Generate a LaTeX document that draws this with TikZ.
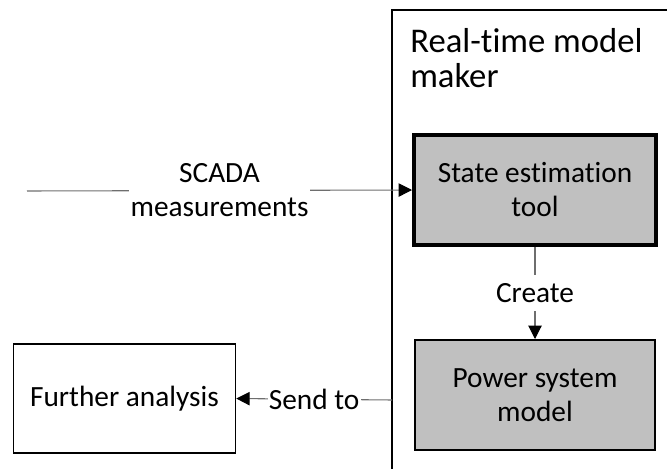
\documentclass[tikz,border=0pt]{standalone}
\usepackage{fontspec}
\setmainfont{Carlito}[Ligatures=NoCommon]
\usetikzlibrary{arrows.meta}

\definecolor{boxgray}{HTML}{C0C0C0}
\definecolor{linkgray}{HTML}{6E6E6E}
\newcommand{\bodyfont}{\fontsize{22}{25.5}\selectfont}
\newcommand{\titlefont}{\fontsize{26}{26.5}\selectfont}

\tikzset{
  block/.style={draw=black, fill=boxgray, align=center, inner sep=0pt, font=\bodyfont},
  link/.style={draw=linkgray, line width=0.8pt, -{Triangle[length=10pt, width=10pt, color=black]}},
  tag/.style={fill=white, inner xsep=1pt, inner ysep=6pt, align=center, font=\bodyfont}
}

\begin{document}
\begin{tikzpicture}[x=0.75pt, y=-0.75pt, line join=miter]
    \useasboundingbox (0,0) rectangle (667,468);
    \clip (0,0) rectangle (667,468);

    % Frame of the real-time model maker (open to the right and below)
    \draw[line width=1.5pt] (392,480) -- (392,10) -- (690,10);
    \node[anchor=north west, align=left, inner sep=0pt, font=\titlefont] (title) at (410,28)
        {Real-time model\\maker};

    % Blocks
    \node[block, line width=3pt, minimum width=181.5pt, minimum height=82.5pt] (state) at (535,190)
        {State estimation\\tool};
    \node[block, line width=1.5pt, minimum width=180pt, minimum height=82.5pt] (power) at (535,395)
        {Power system\\model};
    \node[block, fill=white, line width=1.1pt, minimum width=166.5pt, minimum height=82pt] (further) at (124.5,398.5)
        {Further analysis};

    % Connectors
    \coordinate (scada) at (27,191);
    \coordinate (sendout) at (392,400);
    \draw[link] (scada) -- node[tag] {SCADA\\measurements} (state.west);
    \draw[link] (state) -- node[tag] {Create} (power);
    \draw[link] (sendout) -- node[tag] {Send to} (further.east);
\end{tikzpicture}
\end{document}
